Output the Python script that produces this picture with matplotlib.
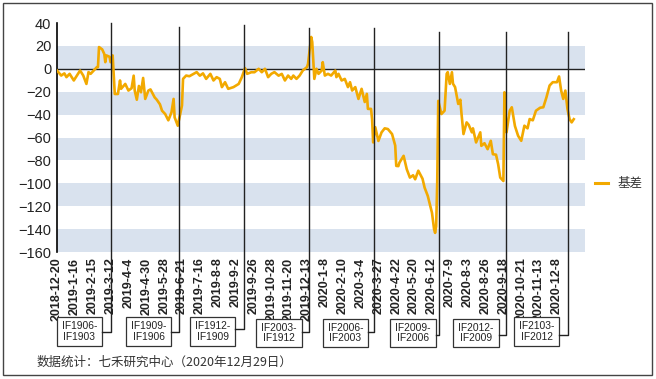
import matplotlib
matplotlib.use("Agg")
import numpy as np
import matplotlib.pyplot as plt
from matplotlib.lines import Line2D
from matplotlib.patches import Rectangle

# basis readings, x = trading-day index counted from 2018-12-20
day_idx = [0, 4, 7, 9, 12, 16, 19, 22, 25, 28, 30, 32, 35, 38, 39, 40, 43, 45, 46, 47,
           50, 51, 53, 55, 58, 60, 61, 65, 68, 71, 73, 74, 76, 78, 80, 82, 84, 87, 89, 93,
           95, 98, 100, 103, 106, 109, 111, 112, 115, 119, 120, 123, 126, 130, 133, 136, 139, 142, 146, 149,
           152, 155, 157, 160, 163, 168, 173, 176, 179, 181, 185, 188, 192, 195, 198, 201, 204, 207, 211, 214,
           217, 220, 223, 225, 228, 231, 234, 238, 239, 242, 243, 245, 247, 249, 252, 253, 255, 258, 261, 265,
           266, 268, 271, 274, 277, 279, 281, 284, 287, 290, 293, 295, 296, 299, 300, 301, 303, 306, 309, 312,
           315, 319, 322, 323, 325, 326, 330, 333, 336, 339, 341, 344, 348, 350, 353, 357, 359, 360, 361, 362,
           363, 366, 369, 371, 372, 374, 376, 377, 379, 382, 384, 385, 387, 390, 392, 395, 396, 399, 403, 404,
           407, 410, 413, 415, 418, 420, 422, 425, 426, 428, 431, 433, 436, 439, 442, 445, 448, 450, 453, 456,
           460, 463, 466, 469, 472, 476, 478, 480, 482, 484, 486, 488, 490, 492]
basis = [-1.5, -5.9, -4.0, -7.3, -4.4, -10.2, -5.9, -1.5, -5.9, -13.2, -2.9, -4.4, -1.5, 1.5, 1.5, 19.0, 17.0, 13.0, 5.8, 11.7,
         10.5, 5.8, 11.7, -22.0, -22.0, -10.2, -17.5, -13.2, -19.0, -17.0, -6.0, -19.0, -27.0, -15.0, -20.5, -8.0, -26.3, -19.0, -18.0, -25.0,
         -27.0, -31.0, -36.6, -39.5, -45.0, -38.0, -26.3, -42.4, -49.7, -32.0, -8.8, -5.9, -6.5, -4.4, -2.9, -6.0, -4.0, -8.8, -4.4, -10.2,
         -7.3, -8.8, -16.0, -11.7, -17.5, -16.0, -13.2, -7.3, 0.6, -4.4, -3.0, -3.0, 0.0, -3.0, 0.0, -7.3, -4.4, -2.9, -6.0, -4.4,
         -10.2, -5.9, -8.8, -5.9, -8.8, -5.9, -1.5, 1.5, 4.4, 27.8, 23.4, -8.8, 0.0, -4.4, -1.5, 5.8, -5.9, -4.4, -5.9, -1.5,
         -7.3, -4.4, -10.2, -8.8, -16.0, -11.7, -19.0, -16.0, -26.3, -17.5, -29.0, -21.9, -35.0, -35.0, -44.0, -64.3, -51.0, -63.0, -55.5, -52.0,
         -52.6, -57.0, -67.0, -84.8, -85.0, -82.0, -76.0, -87.7, -95.0, -93.0, -96.5, -89.0, -96.0, -103.8, -111.0, -125.7, -140.0, -143.3, -137.5, -100.0,
         -28.0, -39.5, -36.6, -4.4, -2.9, -13.2, -3.0, -13.0, -16.0, -30.7, -27.0, -38.0, -57.0, -46.8, -49.0, -55.5, -52.0, -64.3, -55.5, -67.3,
         -65.0, -70.2, -62.9, -74.6, -75.0, -83.3, -95.0, -98.0, -20.5, -55.5, -36.6, -33.6, -50.0, -58.5, -62.9, -49.7, -52.0, -43.9, -45.0, -36.6,
         -34.0, -33.6, -24.9, -14.6, -11.7, -11.7, -6.7, -19.0, -26.3, -19.0, -35.0, -43.9, -46.8, -44.0]

tick_labels = ['2018-12-20', '2019-1-16', '2019-2-15', '2019-3-12', '2019-4-4', '2019-4-30',
               '2019-5-28', '2019-6-21', '2019-7-16', '2019-8-8', '2019-9-2', '2019-9-26',
               '2019-10-28', '2019-11-20', '2019-12-13', '2020-1-8', '2020-2-10', '2020-3-4',
               '2020-3-27', '2020-4-22', '2020-5-20', '2020-6-12', '2020-7-9', '2020-8-3',
               '2020-8-26', '2020-9-18', '2020-10-21', '2020-11-13', '2020-12-8']
tick_step = 17

# contract roll points and their callout labels
roll_idx = [51.4, 116, 178, 240, 302, 364, 427.5, 486.5]
roll_labels = ['IF1906-\nIF1903', 'IF1909-\nIF1906', 'IF1912-\nIF1909', 'IF2003-\nIF1912',
               'IF2006-\nIF2003', 'IF2009-\nIF2006', 'IF2012-\nIF2009', 'IF2103-\nIF2012']

# callout boxes in pixels: x0, x1, y0, y1, connector y, top of line
boxes = [(57, 102, 317, 346, 332, 23), (126, 171, 317, 346, 332, 27),
         (190, 235, 317, 346, 329, 25), (256, 302, 319, 347, 332, 28),
         (323, 368, 319, 347, 332, 28), (390, 436, 319, 347, 335, 32),
         (453, 499, 319, 347, 335, 32), (514, 559, 317, 346, 335, 32)]

W, H = 656, 379
AX_L, AX_R, AX_T, AX_B = 57, 585, 23, 252
XMAX = 502.7
LINE_COLOR = '#F2A900'
BAND_COLOR = '#D9E2EE'
CJK = ['Noto Sans CJK SC', 'DejaVu Sans']

plt.rcParams['font.family'] = ['Liberation Sans', 'DejaVu Sans']


def fx(px):
    return px / W


def fy(py):
    return 1 - py / H


fig = plt.figure(figsize=(W / 100, H / 100), dpi=100)
ax = fig.add_axes([fx(AX_L), fy(AX_B), (AX_R - AX_L) / W, (AX_B - AX_T) / H])

# alternating bands
for lo in [0, -40, -80, -120, -160]:
    ax.axhspan(lo, lo + 20, color=BAND_COLOR, lw=0, zorder=0)
ax.axhline(0, color='#222222', lw=1.0, zorder=1)

ax.plot(day_idx, basis, color=LINE_COLOR, lw=1.9, solid_joinstyle='round', zorder=3)

ax.set_xlim(0, XMAX)
ax.set_ylim(-160, 40)
for side in ['top', 'right', 'bottom']:
    ax.spines[side].set_visible(False)
ax.spines['left'].set_color('black')
ax.spines['left'].set_linewidth(1.2)

ax.set_yticks(np.arange(-160, 41, 20))
ax.tick_params(axis='y', length=0, pad=4, labelsize=10.5, labelcolor='#222222')
ax.set_xticks(np.arange(len(tick_labels)) * tick_step)
ax.set_xticklabels(tick_labels, rotation=90, fontsize=9, fontweight='bold', color='#222222')
ax.tick_params(axis='x', length=0, pad=4)

# callout lines and boxes for each roll
for idx, label, (x0, x1, y0, y1, cy, top) in zip(roll_idx, roll_labels, boxes):
    px = AX_L + idx * (AX_R - AX_L) / XMAX
    fig.add_artist(Line2D([fx(px), fx(px), fx(x1)], [fy(top), fy(cy), fy(cy)],
                          transform=fig.transFigure, color='#222222', lw=1.0))
    fig.add_artist(Rectangle((fx(x0), fy(y1)), (x1 - x0) / W, (y1 - y0) / H,
                             transform=fig.transFigure, facecolor='white',
                             edgecolor='#333333', lw=0.9))
    fig.text(fx((x0 + x1) / 2), fy((y0 + y1) / 2), label, ha='center', va='center',
             fontsize=7.4, color='#222222', linespacing=1.05)

# legend
fig.add_artist(Line2D([fx(595), fx(608)], [fy(183), fy(183)], transform=fig.transFigure,
                      color=LINE_COLOR, lw=2.2))
fig.text(fx(617), fy(183), '基差', ha='left', va='center', fontsize=9,
         family=CJK, color='#333333')

fig.text(fx(37), fy(362), '数据统计：七禾研究中心（2020年12月29日）', ha='left', va='center',
         fontsize=9, family=CJK, color='#333333')

# outer frame
fig.add_artist(Rectangle((fx(3), fy(375)), 649 / W, 372 / H, transform=fig.transFigure,
                         fill=False, edgecolor='#444444', lw=1.0))

fig.savefig('out.png', dpi=100)
